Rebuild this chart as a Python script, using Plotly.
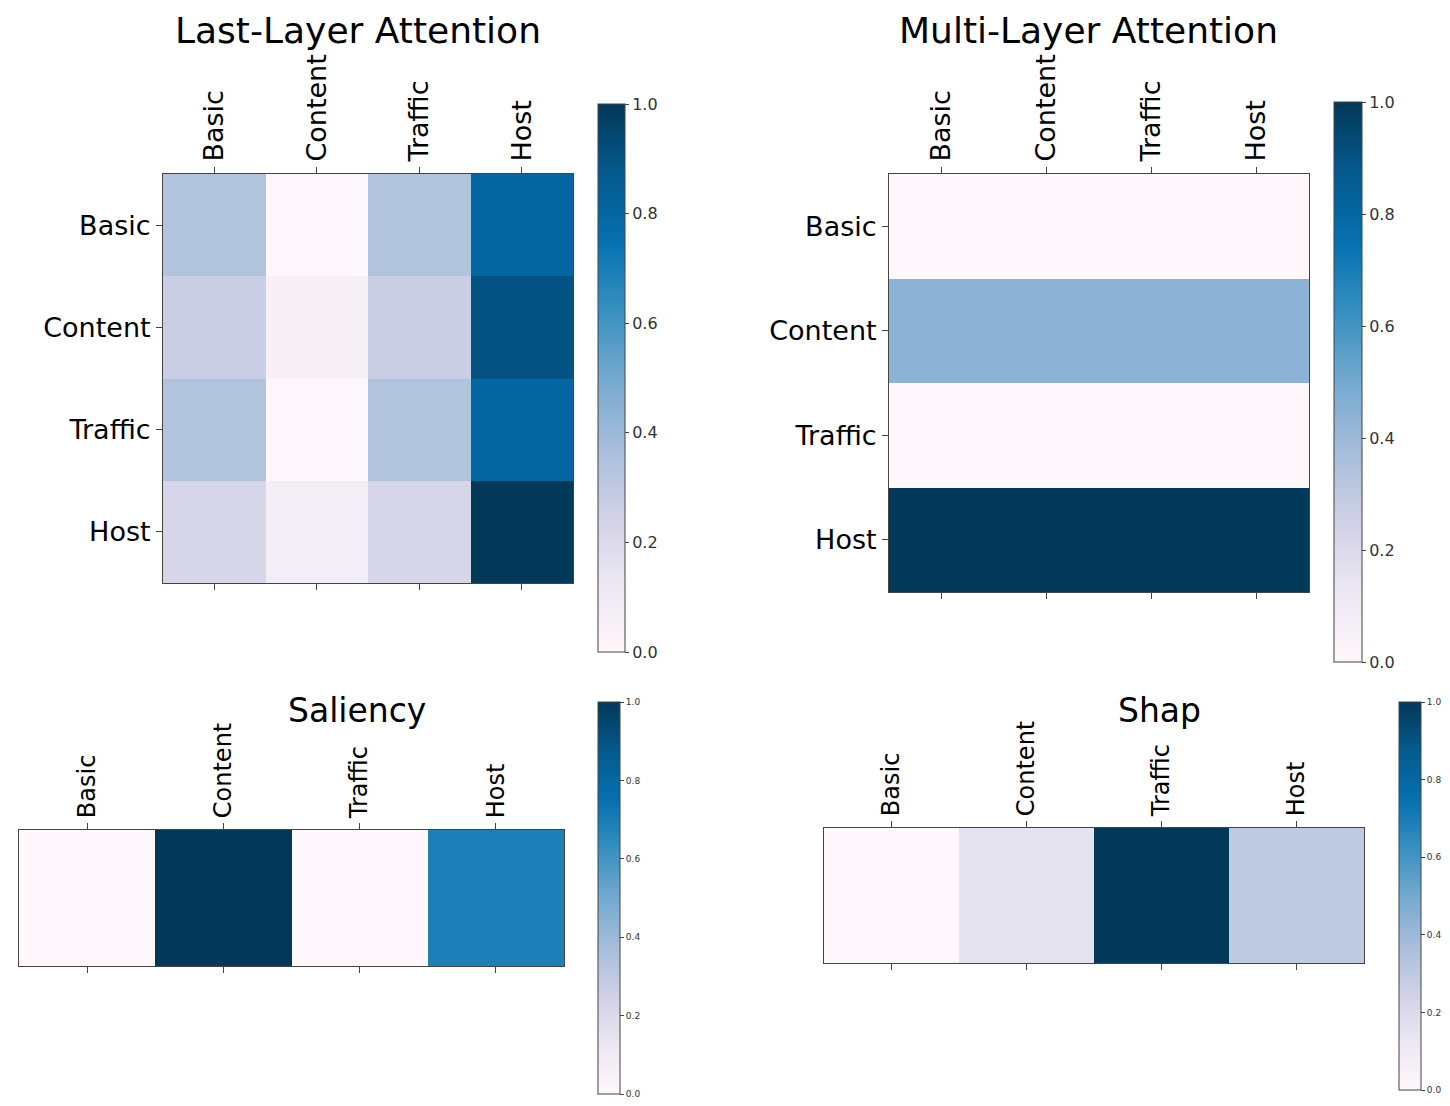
import plotly.graph_objects as go

OFF = 8  # page body margin in the browser
W, H = 1450 - OFF, 1106 - OFF
features = ["Basic", "Content", "Traffic", "Host"]

last_layer = [
    [0.34, 0.01, 0.34, 0.80],
    [0.27, 0.05, 0.27, 0.90],
    [0.34, 0.01, 0.34, 0.80],
    [0.22, 0.08, 0.22, 1.00],
]
multi_layer = [
    [0.0, 0.0, 0.0, 0.0],
    [0.44, 0.44, 0.44, 0.44],
    [0.0, 0.0, 0.0, 0.0],
    [1.0, 1.0, 1.0, 1.0],
]
saliency = [[0.0, 1.0, 0.0, 0.69]]
shap = [[0.0, 0.15, 1.0, 0.30]]

titles = ["Last-Layer Attention", "Multi-Layer Attention", "Saliency", "Shap"]

pubu = [
    [0.0, "rgb(255,247,251)"], [0.125, "rgb(236,231,242)"], [0.25, "rgb(208,209,230)"],
    [0.375, "rgb(166,189,219)"], [0.5, "rgb(116,169,207)"], [0.625, "rgb(54,144,192)"],
    [0.75, "rgb(5,112,176)"], [0.875, "rgb(4,90,141)"], [1.0, "rgb(2,56,88)"],
]

# panel geometry in reference pixels: heatmap box (x0,x1,y0,y1), colorbar (x0,x1,y0,y1)
# ty = None -> title pinned to the top edge of the figure
panels = [
    dict(z=last_layer, rows=features, box=(163, 573, 174, 583), cb=(598, 625, 104, 652),
         tfs=27, cbfs=16, tfsz=36, tx=358, ty=None),
    dict(z=multi_layer, rows=features, box=(889, 1309, 174, 592), cb=(1334, 1362, 102, 662),
         tfs=27, cbfs=16, tfsz=36, tx=1088, ty=None),
    dict(z=saliency, rows=["s"], box=(19, 564, 830, 966), cb=(598, 620, 702, 1094),
         tfs=24, cbfs=9, tfsz=33, tx=357, ty=710),
    dict(z=shap, rows=["s"], box=(824, 1364, 828, 963), cb=(1399, 1421, 702, 1090),
         tfs=24, cbfs=9, tfsz=33, tx=1159, ty=710),
]

def px(v):
    return (v - OFF) / W

def py(v):
    return 1 - (v - OFF) / H

fig = go.Figure()
FONT = "DejaVu Sans"
LC = "#444444"

for i, p in enumerate(panels):
    n = "" if i == 0 else str(i + 1)
    x0, x1, y0, y1 = p["box"]
    c0, c1, cy0, cy1 = p["cb"]
    fig.add_trace(go.Heatmap(
        z=p["z"], x=features, y=p["rows"], colorscale=pubu, zmin=0, zmax=1,
        xaxis="x" + n, yaxis="y" + n, hoverinfo="skip",
        colorbar=dict(
            x=px(c0), xanchor="left", xpad=0, ypad=0,
            y=py((cy0 + cy1) / 2), yanchor="middle",
            len=(cy1 - cy0) / H, lenmode="fraction",
            thickness=c1 - c0, outlinecolor=LC, outlinewidth=1,
            tickvals=[0, 0.2, 0.4, 0.6, 0.8, 1.0], tickformat=".1f",
            ticks="outside", ticklen=4, tickcolor=LC,
            tickfont=dict(family=FONT, size=p["cbfs"], color="#333"),
        ),
    ))
    fig.layout["xaxis" + n] = dict(
        domain=[px(x0), px(x1)], anchor="y" + n, side="top",
        tickangle=-90, ticks="outside", ticklen=6, tickcolor=LC,
        showline=True, linecolor=LC, linewidth=1, mirror="ticks",
        showgrid=False, zeroline=False,
        tickfont=dict(family=FONT, size=p["tfs"], color="black"),
    )
    single = len(p["rows"]) == 1
    fig.layout["yaxis" + n] = dict(
        domain=[py(y1), py(y0)], anchor="x" + n, autorange="reversed",
        ticks="" if single else "outside", ticklen=6, tickcolor=LC,
        showticklabels=not single,
        showline=True, linecolor=LC, linewidth=1, mirror=True,
        showgrid=False, zeroline=False,
        tickfont=dict(family=FONT, size=p["tfs"], color="black"),
    )
    if p["ty"] is None:
        ty, yanchor = 1.0, "top"
    else:
        ty, yanchor = py(p["ty"]), "middle"
    fig.add_annotation(
        text=titles[i], x=px(p["tx"]), y=ty, xref="paper", yref="paper",
        xanchor="center", yanchor=yanchor, showarrow=False,
        font=dict(family=FONT, size=p["tfsz"], color="black"),
    )

fig.update_layout(
    width=W, height=H, margin=dict(l=0, r=0, t=0, b=0),
    paper_bgcolor="white", plot_bgcolor="white", showlegend=False,
    font=dict(family=FONT),
)

fig.write_html("out.html")
